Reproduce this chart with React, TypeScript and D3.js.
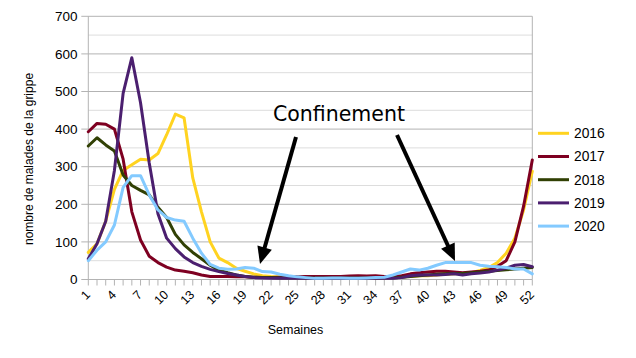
import React from "react";
import * as d3 from "d3";

const weeks: number[] = Array.from({ length: 52 }, (_, i) => i + 1);
const seriesNames = ["2016", "2017", "2018", "2019", "2020"];
const seriesColors = ["#ffd320", "#7e0021", "#314004", "#4b1f6f", "#83caff"];

const y2016 = [72, 95, 155, 240, 290, 305, 320, 318, 335, 385, 440, 430, 270, 180, 100, 57, 45, 30, 22, 15, 10, 8, 7, 6, 6, 6, 5, 5, 5, 5, 5, 5, 5, 5, 5, 6, 7, 8, 10, 10, 12, 14, 15, 16, 18, 24, 32, 45, 70, 110, 185, 288];
const y2017 = [393, 415, 413, 400, 320, 180, 105, 62, 45, 33, 25, 22, 18, 12, 8, 8, 8, 7, 7, 6, 5, 5, 6, 6, 7, 8, 8, 8, 8, 8, 9, 10, 9, 10, 8, 8, 10, 15, 18, 20, 22, 22, 20, 18, 20, 22, 25, 35, 50, 100, 195, 318];
const y2018 = [355, 377, 358, 342, 278, 250, 237, 225, 192, 165, 120, 92, 72, 55, 38, 25, 18, 12, 8, 6, 5, 5, 4, 4, 4, 4, 4, 4, 4, 4, 4, 4, 4, 4, 4, 4, 6, 8, 10, 12, 14, 15, 16, 16, 18, 20, 22, 24, 26, 28, 30, 32];
const y2019 = [55, 95, 155, 290, 495, 590, 470, 310, 175, 110, 82, 60, 45, 35, 27, 21, 16, 12, 8, 5, 4, 3, 3, 3, 3, 3, 3, 3, 3, 3, 3, 3, 3, 3, 3, 3, 5, 10, 12, 12, 12, 13, 15, 12, 15, 17, 20, 25, 30, 38, 40, 34];
const y2020 = [50, 78, 100, 145, 245, 276, 276, 225, 185, 165, 158, 155, 110, 70, 40, 30, 27, 28, 32, 30, 21, 20, 14, 10, 7, 5, 3, 3, 4, 4, 3, 3, 4, 5, 6, 12, 20, 28, 25, 30, 38, 45, 45, 45, 45, 38, 35, 34, 32, 28, 28, 15];
const seriesValues = [y2016, y2017, y2018, y2019, y2020];

const yTicks = [0, 100, 200, 300, 400, 500, 600, 700];
const yMinorTicks = [50, 150, 250, 350, 450, 550, 650];
const xLabelWeeks = weeks.filter((w) => (w - 1) % 3 === 0);

const yTitle = "nombre de malades de la grippe";
const xTitle = "Semaines";
const annotation = "Confinement";

export default function App() {
  const W = 636;
  const H = 358;
  const left = 88.3;
  const right = 532.3;
  const top = 16.3;
  const bottom = 279.5;

  const x = d3.scaleLinear().domain([1, 52]).range([left, right]);
  const y = d3.scaleLinear().domain([0, 700]).range([bottom, top]);

  const line = d3
    .line<number>()
    .x((_, i) => x(weeks[i]))
    .y((d) => y(d));

  const font = "'Liberation Sans', Arial, sans-serif";

  const arrows = [
    { x1: 296, y1: 137, x2: 260, y2: 264 },
    { x1: 397, y1: 135, x2: 455, y2: 261 },
  ];

  const arrowHead = (a: { x1: number; y1: number; x2: number; y2: number }) => {
    const dx = a.x2 - a.x1;
    const dy = a.y2 - a.y1;
    const len = Math.sqrt(dx * dx + dy * dy);
    const ux = dx / len;
    const uy = dy / len;
    const hl = 17;
    const hw = 7.5;
    const bx = a.x2 - ux * hl;
    const by = a.y2 - uy * hl;
    const p1 = [bx - uy * hw, by + ux * hw];
    const p2 = [bx + uy * hw, by - ux * hw];
    return {
      poly: `${a.x2},${a.y2} ${p1[0]},${p1[1]} ${p2[0]},${p2[1]}`,
      lx: a.x2 - ux * (hl - 3),
      ly: a.y2 - uy * (hl - 3),
    };
  };

  return (
    <svg
      width={W}
      height={H}
      style={{ position: "absolute", left: 0, top: 0, background: "#fff" }}
      fontFamily={font}
    >
      <rect x={0} y={0} width={W} height={H} fill="#fff" />
      {yMinorTicks.map((t) => (
        <line key={"m" + t} x1={left} x2={right} y1={y(t)} y2={y(t)} stroke="#dddddd" strokeWidth={1} />
      ))}
      {yTicks.map((t) => (
        <line key={"g" + t} x1={left - 7} x2={right} y1={y(t)} y2={y(t)} stroke="#b3b3b3" strokeWidth={1} />
      ))}
      <line x1={left} x2={left} y1={top} y2={bottom} stroke="#b3b3b3" strokeWidth={1} />
      <line x1={right} x2={right} y1={top} y2={bottom} stroke="#b3b3b3" strokeWidth={1} />
      {weeks.map((w) => (
        <line key={"t" + w} x1={x(w)} x2={x(w)} y1={bottom} y2={bottom + 6} stroke="#b3b3b3" strokeWidth={1} />
      ))}
      {yTicks.map((t) => (
        <text key={"yl" + t} x={77.5} y={y(t)} dy="0.35em" textAnchor="end" fontSize={13.5} fill="#000">
          {t}
        </text>
      ))}
      {xLabelWeeks.map((w) => (
        <text
          key={"xl" + w}
          transform={`translate(${x(w) + 2.5},${bottom + 16}) rotate(-45)`}
          textAnchor="end"
          fontSize={12.5}
          fill="#000"
        >
          {w}
        </text>
      ))}
      {seriesValues.map((vals, i) => (
        <path
          key={seriesNames[i]}
          d={line(vals) || ""}
          fill="none"
          stroke={seriesColors[i]}
          strokeWidth={3}
          strokeLinejoin="round"
          strokeLinecap="round"
        />
      ))}
      <text transform={`translate(33,159) rotate(-90)`} textAnchor="middle" fontSize={12} fill="#000">
        {yTitle}
      </text>
      <text x={295.5} y={334} textAnchor="middle" fontSize={12.5} fill="#000">
        {xTitle}
      </text>
      {seriesNames.map((n, i) => {
        const ly = 133.3 + i * 23.2;
        return (
          <g key={"lg" + n}>
            <line x1={538} x2={569} y1={ly} y2={ly} stroke={seriesColors[i]} strokeWidth={3} />
            <text x={574} y={ly} dy="0.36em" fontSize={13.8} fill="#000">
              {n}
            </text>
          </g>
        );
      })}
      <text x={273} y={121} fontSize={20.5} fontFamily="'DejaVu Sans', sans-serif" fill="#000">
        {annotation}
      </text>
      {arrows.map((a, i) => {
        const h = arrowHead(a);
        return (
          <g key={"ar" + i}>
            <line x1={a.x1} y1={a.y1} x2={h.lx} y2={h.ly} stroke="#000" strokeWidth={4} />
            <polygon points={h.poly} fill="#000" />
          </g>
        );
      })}
    </svg>
  );
}
